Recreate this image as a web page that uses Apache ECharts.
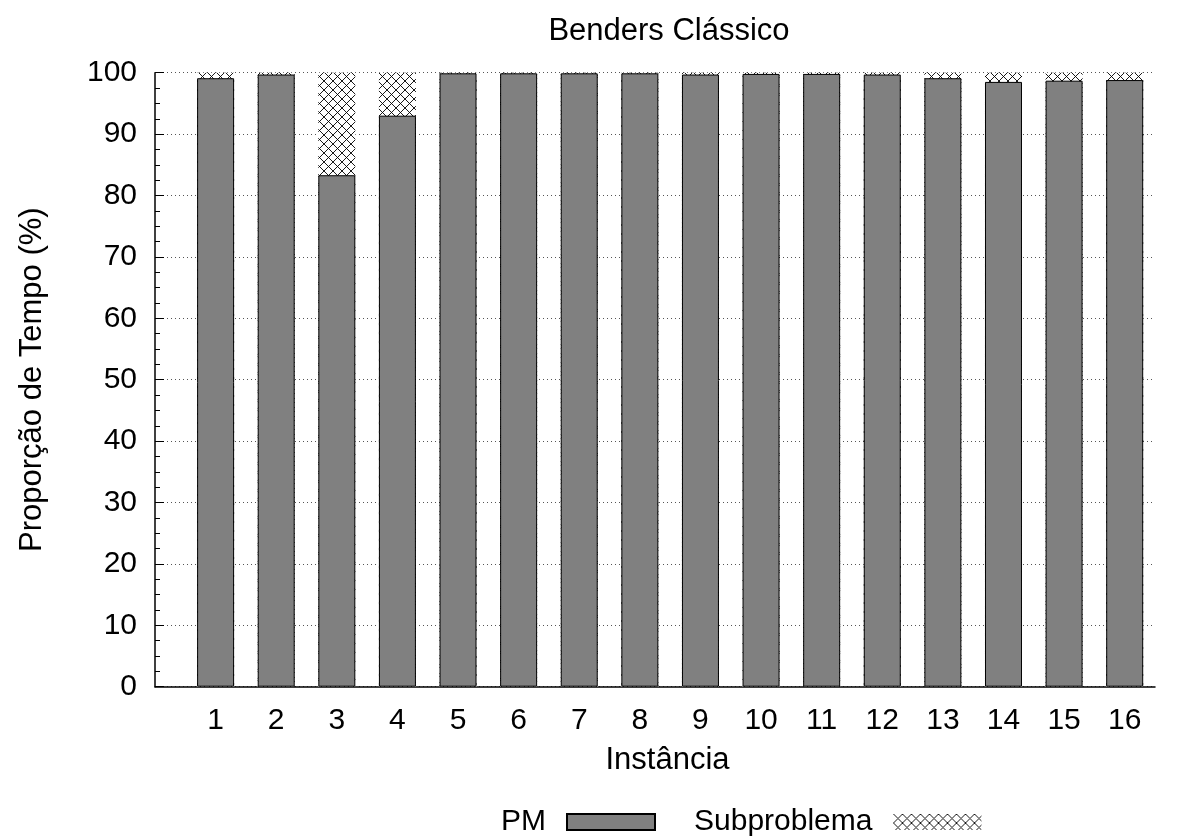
<!DOCTYPE html>
<html><head><meta charset="utf-8">
<script src="https://cdn.jsdelivr.net/npm/echarts@6/dist/echarts.min.js"></script>
<style>html,body{margin:0;padding:0;background:#fff}#c{width:1183px;height:838px}</style>
</head><body><div id="c"></div>
<script>
const instances = [1,2,3,4,5,6,7,8,9,10,11,12,13,14,15,16];
const pmValues = [99.1,99.7,83.3,93.0,99.9,99.9,99.9,99.9,99.7,99.8,99.8,99.7,99.1,98.5,98.7,98.8];
const subValues = [0.9,0.3,16.7,7.0,0.1,0.1,0.1,0.1,0.3,0.2,0.2,0.3,0.9,1.5,1.3,1.2];
const yTicks = [0,10,20,30,40,50,60,70,80,90,100];

function hatch(){
  const s = 9, c = document.createElement('canvas');
  c.width = s; c.height = s;
  const g = c.getContext('2d');
  g.fillStyle = '#fff'; g.fillRect(0,0,s,s);
  g.strokeStyle = '#000'; g.lineWidth = 0.9;
  g.beginPath();
  g.moveTo(0,0); g.lineTo(s,s);
  g.moveTo(0,s); g.lineTo(s,0);
  g.stroke();
  return c;
}
// stacked top of the Subproblema segment = PM + Subproblema
const subTop = instances.map((x,i)=>[x, +(pmValues[i] + subValues[i]).toFixed(2)]);
const font = 'Liberation Sans, Arial, sans-serif';
const chart = echarts.init(document.getElementById('c'));
chart.setOption({
  animation:false,
  backgroundColor:'#fff',
  title:{text:'Benders Clássico',left:664,top:11,textAlign:'center',
    textStyle:{fontFamily:font,fontSize:31,fontWeight:'normal',color:'#000'}},
  grid:{left:155,right:28,top:72.7,bottom:151.3},
  legend:{left:496,top:802,align:'right',icon:'rect',itemWidth:88,itemHeight:16,itemGap:38,
    textStyle:{fontFamily:font,fontSize:30,color:'#000',padding:[0,16,0,0]},
    data:['PM','Subproblema']},
  xAxis:{type:'value',min:0,max:16.5,interval:1,
    name:'Instância',nameLocation:'middle',nameGap:58,
    nameTextStyle:{fontFamily:font,fontSize:31,color:'#000',padding:[0,0,0,25]},
    axisLine:{show:true,lineStyle:{color:'#000',width:1.5}},
    axisTick:{show:false},splitLine:{show:false},
    axisLabel:{fontFamily:font,fontSize:30,color:'#000',margin:19,
      formatter:v => (instances.indexOf(v) >= 0 ? String(v) : '')}},
  yAxis:{type:'value',min:0,max:100,interval:10,
    name:'Proporção de Tempo (%)',nameLocation:'middle',nameGap:107,
    nameTextStyle:{fontFamily:font,fontSize:31,color:'#000'},
    axisLine:{show:true,lineStyle:{color:'#000',width:1.5}},
    axisTick:{show:true,inside:true,length:9,lineStyle:{color:'#000'}},
    minorTick:{show:true,splitNumber:4,length:5,lineStyle:{color:'#000'}},
    splitLine:{show:true,lineStyle:{color:'#555',type:[1,3],width:1}},
    axisLabel:{fontFamily:font,fontSize:30,color:'#000',margin:18,
      formatter:v => (yTicks.indexOf(v) >= 0 ? String(v) : '')}},
  series:[
    {name:'Subproblema',type:'bar',barWidth:37,barGap:'-100%',z:2,
      data:subTop,
      itemStyle:{color:{image:hatch(),repeat:'repeat'},borderWidth:0}},
    {name:'PM',type:'bar',barWidth:37,barGap:'-100%',z:3,
      data:instances.map((x,i)=>[x,pmValues[i]]),
      itemStyle:{color:'#808080',borderColor:'#000',borderWidth:1}}
  ]
});
</script></body></html>
